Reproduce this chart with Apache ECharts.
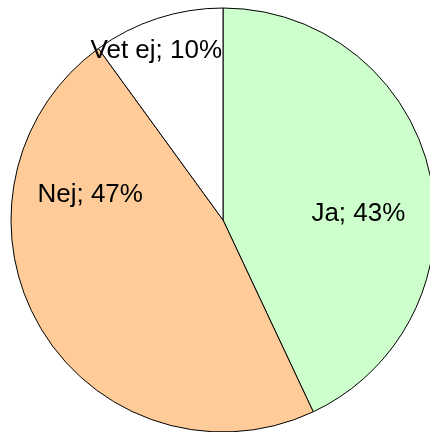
<!DOCTYPE html>
<html>
<head>
<meta charset="utf-8">
<script src="https://cdn.jsdelivr.net/npm/echarts@6/dist/echarts.min.js"></script>
<style>
html,body{margin:0;padding:0;background:#fff;}
#c{width:430px;height:432px;}
</style>
</head>
<body>
<div id="c"></div>
<script>
var categories = ['Ja', 'Nej', 'Vet ej'];
var values = [43, 47, 10];
var colors = ['#CCFFCC', '#FFCC99', '#FFFFFF'];
var labelOffsets = [[29, 18], [-39, -81], [-33, -66]];

var chart = echarts.init(document.getElementById('c'), null, {renderer: 'canvas'});
var data = categories.map(function (name, i) {
  return {
    name: name,
    value: values[i],
    itemStyle: {color: colors[i]},
    label: {offset: labelOffsets[i]}
  };
});
chart.setOption({
  animation: false,
  series: [{
    type: 'pie',
    center: [223, 220],
    radius: [0, 212],
    startAngle: 90,
    clockwise: true,
    avoidLabelOverlap: false,
    silent: true,
    itemStyle: {borderColor: '#000', borderWidth: 1},
    label: {
      show: true,
      position: 'inside',
      formatter: '{b}; {c}%',
      fontFamily: 'Liberation Sans, Arial, sans-serif',
      fontSize: 26,
      color: '#000'
    },
    labelLine: {show: false},
    emphasis: {disabled: true},
    data: data
  }]
});
</script>
</body>
</html>
